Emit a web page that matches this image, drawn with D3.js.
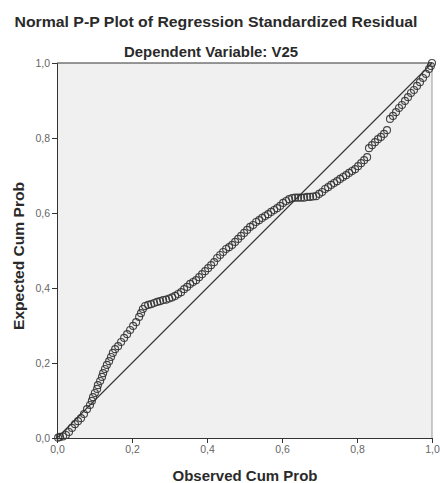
<!doctype html>
<html lang="en">
  <head>
    <meta charset="utf-8">
    <title>Normal P-P Plot</title>
    <style>
      body { margin: 0; background: #fff; }
      svg text { font-family: "Liberation Sans", Arial, sans-serif; }
      .tick text { fill: #666; font-size: 10.5px; }
      .tick line { stroke: #333; }
    </style>
  </head>
  <body>
    <div id="chart"></div>

    <script src="https://cdn.jsdelivr.net/npm/d3@7"></script>

    <script>
      // values
      const title = "Normal P-P Plot of Regression Standardized Residual";
      const subtitle = "Dependent Variable: V25";
      const xLabel = "Observed Cum Prob";
      const yLabel = "Expected Cum Prob";
      const tickValues = [0, 0.2, 0.4, 0.6, 0.8, 1.0];

      const observed = [
        0.003, 0.008, 0.016, 0.024, 0.032, 0.040, 0.048, 0.056, 0.064, 0.072,
        0.080, 0.088, 0.093, 0.096, 0.101, 0.107, 0.109, 0.115, 0.120, 0.123,
        0.128, 0.133, 0.139, 0.144, 0.149, 0.155, 0.163, 0.171, 0.179, 0.187,
        0.195, 0.203, 0.211, 0.219, 0.224, 0.229, 0.235, 0.243, 0.251, 0.259,
        0.267, 0.275, 0.283, 0.291, 0.299, 0.307, 0.315, 0.323, 0.331, 0.339,
        0.347, 0.355, 0.363, 0.371, 0.379, 0.387, 0.395, 0.403, 0.411, 0.419,
        0.427, 0.435, 0.443, 0.451, 0.459, 0.467, 0.475, 0.483, 0.491, 0.499,
        0.507, 0.515, 0.523, 0.531, 0.539, 0.547, 0.555, 0.563, 0.571, 0.579,
        0.587, 0.595, 0.603, 0.611, 0.619, 0.627, 0.635, 0.643, 0.651, 0.659,
        0.667, 0.675, 0.683, 0.691, 0.699, 0.707, 0.715, 0.723, 0.731, 0.739,
        0.747, 0.755, 0.763, 0.771, 0.779, 0.787, 0.795, 0.803, 0.811, 0.819,
        0.827, 0.832, 0.840, 0.848, 0.856, 0.864, 0.872, 0.880, 0.888, 0.896,
        0.904, 0.912, 0.920, 0.928, 0.936, 0.944, 0.952, 0.960, 0.968, 0.976,
        0.984, 0.992, 0.997, 1.000
      ];

      const expected = [
        0.001, 0.003, 0.004, 0.008, 0.016, 0.027, 0.037, 0.045, 0.053, 0.064,
        0.077, 0.088, 0.099, 0.109, 0.120, 0.131, 0.141, 0.152, 0.163, 0.173,
        0.184, 0.195, 0.205, 0.216, 0.227, 0.237, 0.245, 0.256, 0.267, 0.277,
        0.288, 0.299, 0.309, 0.323, 0.333, 0.344, 0.352, 0.355, 0.357, 0.360,
        0.363, 0.365, 0.368, 0.369, 0.372, 0.375, 0.379, 0.384, 0.389, 0.397,
        0.403, 0.411, 0.416, 0.421, 0.429, 0.437, 0.445, 0.453, 0.461, 0.469,
        0.480, 0.488, 0.496, 0.504, 0.509, 0.515, 0.523, 0.531, 0.539, 0.547,
        0.555, 0.563, 0.568, 0.576, 0.581, 0.587, 0.592, 0.597, 0.603, 0.608,
        0.613, 0.619, 0.627, 0.632, 0.637, 0.640, 0.641, 0.641, 0.641, 0.641,
        0.643, 0.643, 0.644, 0.645, 0.651, 0.656, 0.664, 0.669, 0.675, 0.680,
        0.685, 0.691, 0.696, 0.701, 0.707, 0.712, 0.717, 0.725, 0.733, 0.741,
        0.749, 0.773, 0.781, 0.789, 0.797, 0.803, 0.811, 0.821, 0.851, 0.859,
        0.869, 0.880, 0.888, 0.899, 0.909, 0.920, 0.928, 0.939, 0.949, 0.960,
        0.971, 0.984, 0.992, 1.000
      ];

      const width = 440, height = 483;
      const plot = { left: 57, top: 63, size: 375 }; // square plot area

      const svg = d3.select("#chart").append("svg")
        .attr("width", width)
        .attr("height", height);

      const x = d3.scaleLinear().domain([0, 1]).range([plot.left, plot.left + plot.size]);
      const y = d3.scaleLinear().domain([0, 1]).range([plot.top + plot.size, plot.top]);
      const fmt = d => d3.format(".1f")(d).replace(".", ","); // comma decimals like SPSS

      // plot background
      svg.append("rect")
        .attr("x", x(0)).attr("y", y(1))
        .attr("width", x(1) - x(0)).attr("height", y(0) - y(1))
        .attr("fill", "#f0f0f0");

      // right frame line is lighter than the others
      svg.append("line")
        .attr("x1", x(1)).attr("x2", x(1)).attr("y1", y(1)).attr("y2", y(0))
        .attr("stroke", "#9a9a9a");
      svg.append("line")
        .attr("x1", x(0)).attr("x2", x(1)).attr("y1", y(1)).attr("y2", y(1))
        .attr("stroke", "#333");

      // axes
      svg.append("g")
        .attr("transform", "translate(0," + y(0) + ")")
        .call(d3.axisBottom(x).tickValues(tickValues).tickFormat(fmt).tickSize(5).tickPadding(3))
        .call(g => g.select(".domain").attr("stroke", "#333"));

      svg.append("g")
        .attr("transform", "translate(" + x(0) + ",0)")
        .call(d3.axisLeft(y).tickValues(tickValues).tickFormat(fmt).tickSize(5).tickPadding(2))
        .call(g => g.select(".domain").attr("stroke", "#333"));

      // diagonal reference line
      svg.append("line")
        .attr("x1", x(0)).attr("y1", y(0))
        .attr("x2", x(1)).attr("y2", y(1))
        .attr("stroke", "#333")
        .attr("stroke-width", 1.1);

      // points
      const points = observed.map((o, i) => ({ o: o, e: expected[i] }));
      svg.append("g").selectAll("circle")
        .data(points)
        .enter().append("circle")
        .attr("cx", d => x(d.o))
        .attr("cy", d => y(d.e))
        .attr("r", 3.5)
        .attr("fill", "none")
        .attr("stroke", "#333")
        .attr("stroke-opacity", 0.9)
        .attr("stroke-width", 1.1);

      // titles
      svg.append("text")
        .attr("x", 216).attr("y", 27)
        .attr("text-anchor", "middle")
        .attr("font-size", 15.5)
        .attr("font-weight", "bold")
        .attr("fill", "#2a2a2a")
        .attr("textLength", 403)
        .attr("lengthAdjust", "spacingAndGlyphs")
        .text(title);

      svg.append("text")
        .attr("x", 211).attr("y", 57)
        .attr("text-anchor", "middle")
        .attr("font-size", 14)
        .attr("font-weight", "bold")
        .attr("fill", "#2a2a2a")
        .attr("textLength", 174)
        .attr("lengthAdjust", "spacingAndGlyphs")
        .text(subtitle);

      // axis labels
      svg.append("text")
        .attr("x", 245).attr("y", 481)
        .attr("text-anchor", "middle")
        .attr("font-size", 14)
        .attr("font-weight", "bold")
        .attr("fill", "#2a2a2a")
        .attr("textLength", 145)
        .attr("lengthAdjust", "spacingAndGlyphs")
        .text(xLabel);

      svg.append("text")
        .attr("transform", "translate(24,256) rotate(-90)")
        .attr("text-anchor", "middle")
        .attr("font-size", 14)
        .attr("font-weight", "bold")
        .attr("fill", "#2a2a2a")
        .attr("textLength", 148)
        .attr("lengthAdjust", "spacingAndGlyphs")
        .text(yLabel);
    </script>
  </body>
</html>
